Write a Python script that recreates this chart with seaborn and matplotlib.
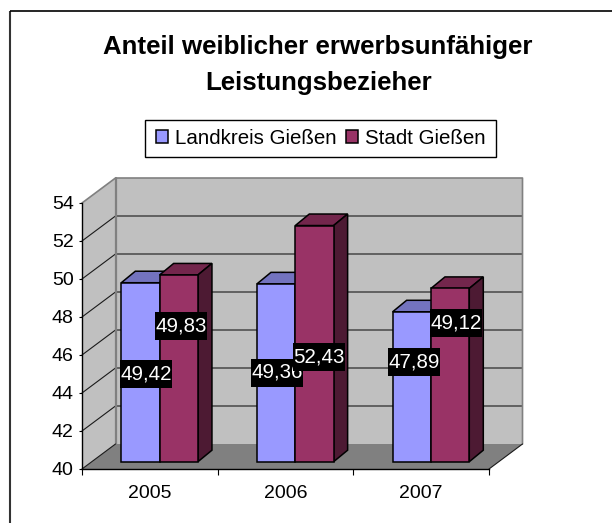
import matplotlib
matplotlib.use('Agg')
import matplotlib.pyplot as plt
from matplotlib.patches import Polygon, Rectangle
import pandas as pd
import seaborn as sns

# Data
years = ['2005', '2006', '2007']
landkreis = [49.42, 49.36, 47.89]
stadt = [49.83, 52.43, 49.12]
series_names = ['Landkreis Gießen', 'Stadt Gießen']
y_ticks = [40, 42, 44, 46, 48, 50, 52, 54]
title_lines = ['Anteil weiblicher erwerbsunfähiger', 'Leistungsbezieher']

df = pd.DataFrame({
    'Jahr': years * 2,
    'Anteil': landkreis + stadt,
    'Gebiet': [series_names[0]] * 3 + [series_names[1]] * 3,
})

sns.set_theme(style='white')
plt.rcParams['font.family'] = ['Liberation Sans', 'DejaVu Sans']

W, H = 612, 523
fig = plt.figure(figsize=(W / 100, H / 100), dpi=100, facecolor='white')


def px_axes(left, top, right, bottom):
    return fig.add_axes([left / W, 1 - bottom / H, (right - left) / W, (bottom - top) / H])


# full size pixel layer for the walls
bg = fig.add_axes([0, 0, 1, 1])
bg.set_xlim(0, W)
bg.set_ylim(H, 0)
bg.axis('off')

# front plane of the 3D box
x0, x1, y0, y1 = 82, 489, 469, 203
dx, dy = 33.5, -25
ax = px_axes(x0, y1, x1, y0)
ax.patch.set_alpha(0)
ax.set_xlim(-0.5, 2.5)
ax.set_ylim(40, 54)

# outer frame, only top and left are visible
bg.plot([9.5, 9.5], [H, 10.5], color='#333333', lw=1.5, solid_capstyle='butt')
bg.plot([9.5, W], [10.5, 10.5], color='black', lw=1.2, solid_capstyle='butt')

# walls and floor
GREY = '#c0c0c0'
bg.add_patch(Polygon([(x0, y0), (x0, y1), (x0 + dx, y1 + dy), (x0 + dx, y0 + dy)], fc=GREY, ec='none'))
bg.add_patch(Polygon([(x0 + dx, y0 + dy), (x0 + dx, y1 + dy), (x1 + dx, y1 + dy), (x1 + dx, y0 + dy)], fc=GREY, ec='none'))
bg.add_patch(Polygon([(x0, y0), (x0 + dx, y0 + dy), (x1 + dx, y0 + dy), (x1, y0)], fc='#808080', ec='none'))

for t in y_ticks[1:-1]:
    yp = y0 + (t - 40) * (y1 - y0) / 14
    bg.plot([x0, x0 + dx, x1 + dx], [yp, yp + dy, yp + dy], color='#1a1a1a', lw=0.8)
bg.plot([x0, x0 + dx, x1 + dx, x1 + dx], [y1, y1 + dy, y1 + dy, y0 + dy], color='#808080', lw=1.2)
bg.plot([x0 + dx, x0 + dx], [y1 + dy, y0 + dy], color='#808080', lw=1.6)
bg.plot([x1, x1 + dx], [y0, y0 + dy], color='#1a1a1a', lw=0.8)
bg.plot([x0, x0 + dx], [y0, y0 + dy], color='#1a1a1a', lw=0.8)

# axis lines and ticks
for s in ['top', 'right']:
    ax.spines[s].set_visible(False)
for s in ['left', 'bottom']:
    ax.spines[s].set_color('black')
    ax.spines[s].set_linewidth(1.0)
ax.set_yticks(y_ticks)
ax.set_xticks([-0.5, 0.5, 1.5, 2.5])
ax.set_xticklabels([])
ax.set_xticks([0, 1, 2], labels=years, minor=True)
ax.tick_params(axis='x', which='major', length=4, width=0.8, color='black', bottom=True)
ax.tick_params(axis='x', which='minor', length=0, pad=11.5, labelsize=14, labelcolor='black')
ax.tick_params(axis='y', length=2, width=0.8, color='black', left=True, pad=4, labelsize=14, labelcolor='black')

# bars sit a bit into the box, same scale as the front plane
shift_x, shift_y = 9.8, -7.3
ax_bars = px_axes(x0 + shift_x, y1 + shift_y, x1 + shift_x, y0 + shift_y)
ax_bars.patch.set_alpha(0)
sns.barplot(
    data=df,
    x='Jahr',
    y='Anteil',
    hue='Gebiet',
    palette=['#9999ff', '#993366'],
    saturation=1,
    width=0.565,
    gap=0,
    edgecolor='black',
    linewidth=1.1,
    ax=ax_bars,
)
ax_bars.set_xlim(-0.5, 2.5)
ax_bars.set_ylim(40, 54)
ax_bars.axis('off')
handles, labels = ax_bars.get_legend_handles_labels()
ax_bars.get_legend().remove()

# 3D faces of the bars, taken from the bar patches
depth_x, depth_y = 14, -11.5
faces = {'#9999ff': ('#7373bf', '#4d4d80'), '#993366': ('#73264c', '#4d1a33')}
to_bg = ax_bars.transData + bg.transData.inverted()
bars = [p for p in ax_bars.patches if p.get_height() > 0]
for p, name in zip(bars, ['#9999ff'] * 3 + ['#993366'] * 3):
    top_value = p.get_height()
    p.set_y(40)
    p.set_height(top_value - 40)
    p.set_clip_on(False)
    p.set_joinstyle('miter')
    xl, xr = p.get_x(), p.get_x() + p.get_width()
    (pl, pt), (pr, pb) = to_bg.transform([(xl, top_value), (xr, 40)])
    top_col, side_col = faces[name]
    ax_bars.add_patch(Polygon(
        [(pl, pt), (pl + depth_x, pt + depth_y), (pr + depth_x, pt + depth_y), (pr, pt)],
        fc=top_col, ec='black', lw=1.1, transform=bg.transData, clip_on=False, zorder=0.5))
    ax_bars.add_patch(Polygon(
        [(pr, pt), (pr + depth_x, pt + depth_y), (pr + depth_x, pb + depth_y), (pr, pb)],
        fc=side_col, ec='black', lw=1.1, transform=bg.transData, clip_on=False, zorder=0.5))

# data labels, placed by hand like the original; later ones cover earlier ones
label_pos = [(146, 374), (277, 372.5), (414, 361.7), (181, 326), (318.5, 357), (456, 322.7)]
box_w, box_h = 52, 28
for i, (v, (lx, ly)) in enumerate(zip(landkreis + stadt, label_pos)):
    ax_bars.add_patch(Rectangle((lx - box_w / 2, ly - box_h / 2), box_w, box_h, fc='black', ec='none',
                                transform=bg.transData, clip_on=False, zorder=5 + i))
    ax_bars.text(lx, ly, f'{v:.2f}'.replace('.', ','), transform=bg.transData, color='white',
                 fontsize=14.8, ha='center', va='center', clip_on=False, zorder=5.5 + i)

# title
fig.text(317.5 / W, 1 - 54 / H, title_lines[0], fontsize=18.6, fontweight='bold', color='black', ha='center', va='baseline')
fig.text(318.5 / W, 1 - 90 / H, title_lines[1], fontsize=18.6, fontweight='bold', color='black', ha='center', va='baseline')

# legend, box drawn separately so padding can differ per side
bg.add_patch(Rectangle((145.3, 120.3), 350.7, 36.7, fc='white', ec='black', lw=1.0))
leg = fig.legend(
    handles, labels, ncol=2, loc='center',
    bbox_to_anchor=(320.6 / W, 1 - 138.6 / H),
    frameon=False, labelcolor='black',
    fontsize=14.8, handlelength=0.58, handleheight=0.58, handletextpad=0.33,
    columnspacing=0.48, borderpad=0, borderaxespad=0,
)

fig.savefig('out.png', dpi=100)
